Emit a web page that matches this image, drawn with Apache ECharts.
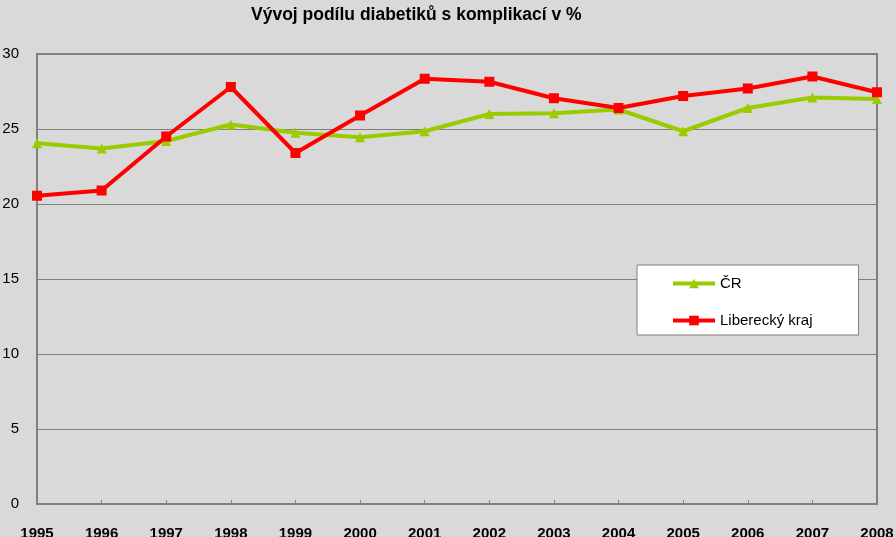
<!DOCTYPE html>
<html><head><meta charset="utf-8">
<script src="https://cdn.jsdelivr.net/npm/echarts@6/dist/echarts.min.js"></script>
<style>html,body{margin:0;padding:0;background:#d9d9d9}#c{width:896px;height:537px}</style>
</head><body><div id="c"></div>
<script>
const years = ['1995','1996','1997','1998','1999','2000','2001','2002','2003','2004','2005','2006','2007','2008'];
const cr = [24.05, 23.7, 24.2, 25.3, 24.75, 24.45, 24.85, 26.0, 26.05, 26.3, 24.85, 26.4, 27.1, 27.0];
const liberec = [20.55, 20.9, 24.5, 27.8, 23.4, 25.9, 28.35, 28.15, 27.05, 26.4, 27.2, 27.7, 28.5, 27.45];
const yTicks = {min: 0, max: 30, interval: 5};
const chart = echarts.init(document.getElementById('c'));
chart.setOption({
  backgroundColor: '#d9d9d9',
  animation: false,
  title: {text: 'Vývoj podílu diabetiků s komplikací v %', left: 246, top: 1,
    textStyle: {fontFamily: 'Liberation Sans', fontWeight: 'bold', fontSize: 17.5, color: '#000'}},
  grid: {left: 37, right: 19, top: 54, bottom: 33, show: true, borderColor: '#808080', borderWidth: 2,
    backgroundColor: 'transparent', containLabel: false, outerBoundsMode: 'none'},
  legend: {orient: 'vertical', left: 637, top: 265, padding: [11, 46, 7, 34], itemGap: 22,
    itemWidth: 42, itemHeight: 12, backgroundColor: '#ffffff', borderColor: '#808080', borderWidth: 1,
    lineStyle: {width: 4},
    textStyle: {fontFamily: 'Liberation Sans', fontSize: 15, color: '#000'},
    data: ['ČR', 'Liberecký kraj']},
  xAxis: {type: 'category', data: years, boundaryGap: false,
    axisLine: {lineStyle: {color: '#808080', width: 2}},
    axisTick: {inside: true, length: 4, lineStyle: {color: '#808080'}},
    axisLabel: {margin: 22, fontFamily: 'Liberation Sans', fontWeight: 'bold', fontSize: 15, color: '#000'}},
  yAxis: {type: 'value', min: yTicks.min, max: yTicks.max, interval: yTicks.interval,
    axisLine: {show: true, lineStyle: {color: '#808080', width: 2}},
    axisTick: {show: false},
    splitLine: {lineStyle: {color: '#808080', width: 1}},
    axisLabel: {margin: 18, fontFamily: 'Liberation Sans', fontSize: 15, color: '#000'}},
  series: [
    {name: 'ČR', type: 'line', data: cr, symbol: 'triangle', symbolSize: 10,
      lineStyle: {color: '#99cc00', width: 4}, itemStyle: {color: '#99cc00'}},
    {name: 'Liberecký kraj', type: 'line', data: liberec, symbol: 'rect', symbolSize: 10,
      lineStyle: {color: '#ff0000', width: 4}, itemStyle: {color: '#ff0000'}}
  ]
});
</script></body></html>
